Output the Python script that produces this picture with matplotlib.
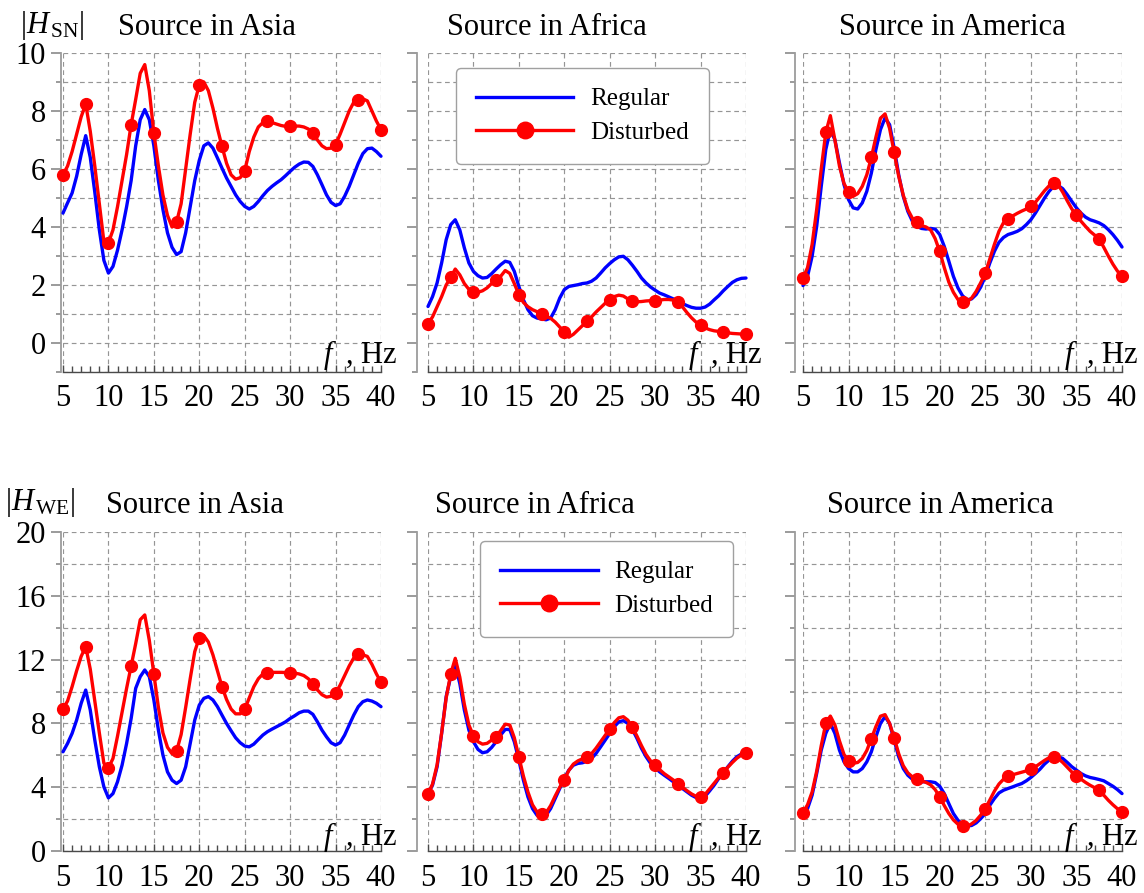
import numpy as np
import matplotlib
matplotlib.use("Agg")
import matplotlib.pyplot as plt
from matplotlib.ticker import MultipleLocator
from matplotlib.lines import Line2D

plt.rcParams['font.family'] = ['Liberation Serif', 'DejaVu Serif']
plt.rcParams['mathtext.fontset'] = 'custom'
plt.rcParams['mathtext.rm'] = 'Liberation Serif'
plt.rcParams['mathtext.it'] = 'Liberation Serif:italic'

# ---------------------------------------------------------------- data
# frequency samples, Hz (markers every 2.5 Hz)
FREQ = np.arange(5.0, 40.01, 0.5)

SN_ASIA_REG = [4.48, 4.83, 5.17, 5.75, 6.5, 7.15, 6.4, 5.2, 3.9, 2.85,
               2.41, 2.64, 3.2, 3.9, 4.7, 5.6, 6.8, 7.7, 8.05, 7.7,
               6.8, 5.6, 4.6, 3.8, 3.3, 3.05, 3.15, 3.8, 4.7, 5.6,
               6.3, 6.8, 6.9, 6.72, 6.38, 6.03, 5.69, 5.4, 5.11, 4.88,
               4.71, 4.62, 4.71, 4.88, 5.08, 5.26, 5.4, 5.52, 5.63, 5.77,
               5.92, 6.06, 6.17, 6.24, 6.23, 6.09, 5.8, 5.46, 5.11, 4.85,
               4.74, 4.8, 5.06, 5.4, 5.8, 6.2, 6.53, 6.7, 6.72, 6.6,
               6.44]
SN_ASIA_DIS = [5.8, 6.1, 6.6, 7.2, 7.8, 8.24, 7.3, 6.1, 4.8, 3.5,
               3.45, 3.9, 4.7, 5.6, 6.5, 7.53, 8.4, 9.3, 9.6, 8.7,
               7.24, 6.1, 5.1, 4.4, 4.0, 4.17, 4.8, 6.0, 7.2, 8.3,
               8.9, 9.0, 8.7, 8.1, 7.4, 6.78, 6.2, 5.8, 5.65, 5.7,
               5.94, 6.6, 7.1, 7.45, 7.6, 7.64, 7.6, 7.55, 7.5, 7.47,
               7.47, 7.48, 7.48, 7.45, 7.38, 7.24, 7.0, 6.8, 6.7, 6.72,
               6.84, 7.2, 7.6, 8.0, 8.3, 8.37, 8.42, 8.35, 8.0, 7.65,
               7.36]

SN_AFR_REG = [1.26, 1.6, 2.07, 2.76, 3.56, 4.08, 4.25, 3.9, 3.28, 2.76,
              2.47, 2.32, 2.24, 2.26, 2.39, 2.55, 2.7, 2.82, 2.78, 2.47,
              1.95, 1.49, 1.15, 0.94, 0.86, 0.83, 0.8, 0.86, 1.15, 1.55,
              1.84, 1.95, 1.98, 2.01, 2.05, 2.07, 2.13, 2.24, 2.41, 2.59,
              2.74, 2.87, 2.97, 2.99, 2.87, 2.68, 2.47, 2.24, 2.07, 1.93,
              1.82, 1.72, 1.66, 1.59, 1.52, 1.44, 1.36, 1.29, 1.23, 1.2,
              1.2, 1.24, 1.34, 1.49, 1.63, 1.8, 1.95, 2.09, 2.18, 2.23,
              2.24]
SN_AFR_DIS = [0.67, 0.9, 1.25, 1.6, 2.0, 2.26, 2.55, 2.35, 2.05, 1.85,
              1.75, 1.75, 1.8, 1.9, 2.05, 2.16, 2.3, 2.5, 2.4, 2.05,
              1.67, 1.4, 1.25, 1.15, 1.08, 1.01, 0.93, 0.85, 0.72, 0.55,
              0.38, 0.2, 0.3, 0.45, 0.6, 0.75, 0.9, 1.07, 1.22, 1.37,
              1.49, 1.6, 1.65, 1.62, 1.52, 1.44, 1.42, 1.43, 1.45, 1.46,
              1.46, 1.48, 1.5, 1.5, 1.48, 1.41, 1.25, 1.05, 0.87, 0.72,
              0.61, 0.52, 0.46, 0.42, 0.4, 0.38, 0.35, 0.33, 0.32, 0.31,
              0.32]

SN_AMR_REG = [1.98, 2.3, 2.99, 4.02, 5.4, 6.67, 7.36, 7.01, 6.21, 5.46,
              4.94, 4.66, 4.62, 4.83, 5.23, 5.86, 6.67, 7.36, 7.76, 7.53,
              6.72, 5.8, 5.06, 4.54, 4.2, 4.02, 3.95, 3.93, 3.95, 3.93,
              3.74, 3.33, 2.82, 2.3, 1.9, 1.63, 1.49, 1.52, 1.67, 1.93,
              2.3, 2.76, 3.16, 3.47, 3.64, 3.74, 3.79, 3.85, 3.94, 4.08,
              4.25, 4.48, 4.74, 5.0, 5.23, 5.4, 5.43, 5.32, 5.11, 4.88,
              4.66, 4.48, 4.34, 4.25, 4.2, 4.14, 4.05, 3.91, 3.74, 3.54,
              3.31]
SN_AMR_DIS = [2.24, 2.6, 3.4, 4.6, 6.0, 7.26, 7.84, 7.0, 6.1, 5.5,
              5.2, 5.06, 5.15, 5.4, 5.8, 6.4, 7.1, 7.75, 7.9, 7.4,
              6.57, 5.75, 5.1, 4.6, 4.3, 4.16, 4.05, 4.0, 3.9, 3.6,
              3.16, 2.6, 2.1, 1.75, 1.5, 1.4, 1.42, 1.55, 1.78, 2.08,
              2.41, 2.9, 3.4, 3.85, 4.15, 4.29, 4.38, 4.47, 4.55, 4.62,
              4.71, 4.85, 5.05, 5.25, 5.42, 5.52, 5.45, 5.2, 4.9, 4.62,
              4.4, 4.2, 4.02, 3.85, 3.72, 3.59, 3.3, 3.0, 2.72, 2.48,
              2.3]

WE_ASIA_REG = [6.22, 6.74, 7.37, 8.21, 9.26, 10.09, 8.84, 6.95, 5.28, 4.02,
               3.33, 3.6, 4.34, 5.38, 6.74, 8.31, 10.2, 10.93, 11.35, 10.93,
               9.47, 7.58, 6.01, 4.96, 4.44, 4.23, 4.44, 5.28, 6.74, 8.21,
               9.15, 9.57, 9.68, 9.47, 9.05, 8.52, 8.0, 7.54, 7.1, 6.79,
               6.58, 6.53, 6.7, 6.99, 7.27, 7.48, 7.64, 7.79, 7.94, 8.1,
               8.31, 8.48, 8.67, 8.77, 8.77, 8.57, 8.1, 7.58, 7.16, 6.79,
               6.64, 6.79, 7.27, 7.9, 8.52, 9.05, 9.36, 9.47, 9.4, 9.26,
               9.05]
WE_ASIA_DIS = [8.92, 9.4, 10.3, 11.3, 12.2, 12.82, 11.4, 9.4, 7.4, 5.5,
               5.21, 5.8, 7.2, 8.7, 10.2, 11.6, 13.0, 14.5, 14.8, 13.2,
               11.1, 9.0, 7.4, 6.5, 6.1, 6.26, 7.3, 9.0, 10.8, 12.5,
               13.38, 13.5, 13.1, 12.3, 11.3, 10.3, 9.5, 8.9, 8.6, 8.6,
               8.88, 9.6, 10.3, 10.8, 11.1, 11.18, 11.2, 11.2, 11.2, 11.19,
               11.18, 11.15, 11.1, 11.0, 10.8, 10.47, 10.1, 9.8, 9.65, 9.7,
               9.88, 10.4, 11.0, 11.6, 12.1, 12.34, 12.3, 12.2, 11.7, 11.1,
               10.58]

WE_AFR_REG = [3.6, 4.13, 5.28, 7.37, 9.68, 10.93, 11.66, 10.5, 8.84, 7.58,
              6.85, 6.37, 6.16, 6.22, 6.49, 6.85, 7.27, 7.62, 7.62, 6.85,
              5.7, 4.44, 3.39, 2.66, 2.24, 2.14, 2.24, 2.66, 3.29, 3.92,
              4.55, 5.07, 5.38, 5.49, 5.53, 5.63, 5.8, 6.12, 6.53, 6.95,
              7.37, 7.79, 8.1, 8.17, 8.0, 7.62, 7.06, 6.43, 5.91, 5.49,
              5.21, 4.96, 4.75, 4.55, 4.34, 4.13, 3.92, 3.71, 3.5, 3.35,
              3.29, 3.43, 3.77, 4.13, 4.55, 4.92, 5.28, 5.63, 5.91, 6.08,
              6.16]
WE_AFR_DIS = [3.56, 4.2, 5.4, 7.4, 9.6, 11.1, 12.08, 10.9, 9.2, 7.9,
              7.23, 6.85, 6.7, 6.75, 6.95, 7.16, 7.55, 7.95, 7.9, 7.1,
              5.91, 4.7, 3.7, 2.9, 2.45, 2.3, 2.4, 2.85, 3.45, 4.0,
              4.48, 5.05, 5.45, 5.65, 5.78, 5.91, 6.1, 6.45, 6.85, 7.25,
              7.64, 8.05, 8.35, 8.42, 8.2, 7.75, 7.2, 6.6, 6.05, 5.65,
              5.38, 5.1, 4.85, 4.65, 4.45, 4.23, 4.0, 3.78, 3.58, 3.43,
              3.39, 3.55, 3.9, 4.25, 4.6, 4.92, 5.25, 5.55, 5.82, 6.02,
              6.16]

WE_AMR_REG = [2.14, 2.66, 3.5, 4.86, 6.32, 7.37, 8.0, 7.37, 6.32, 5.59,
              5.17, 4.96, 4.96, 5.17, 5.59, 6.22, 7.16, 8.0, 8.42, 8.0,
              6.95, 5.91, 5.17, 4.75, 4.5, 4.38, 4.34, 4.34, 4.34, 4.29,
              4.06, 3.6, 2.97, 2.35, 1.93, 1.68, 1.57, 1.6, 1.76, 2.03,
              2.35, 2.87, 3.29, 3.64, 3.81, 3.92, 4.02, 4.13, 4.23, 4.4,
              4.61, 4.86, 5.13, 5.45, 5.7, 5.86, 5.91, 5.8, 5.55, 5.28,
              5.07, 4.86, 4.71, 4.61, 4.55, 4.48, 4.4, 4.23, 4.06, 3.85,
              3.6]
WE_AMR_DIS = [2.41, 2.9, 3.7, 5.0, 6.6, 8.0, 8.46, 7.9, 6.9, 6.05,
              5.65, 5.5, 5.55, 5.8, 6.3, 7.04, 7.8, 8.45, 8.55, 8.0,
              7.1, 6.1, 5.35, 4.9, 4.65, 4.5, 4.4, 4.3, 4.15, 3.85,
              3.39, 2.85, 2.35, 1.95, 1.68, 1.55, 1.55, 1.7, 1.92, 2.25,
              2.66, 3.2, 3.75, 4.2, 4.5, 4.69, 4.78, 4.86, 4.94, 5.02,
              5.11, 5.28, 5.48, 5.68, 5.85, 5.91, 5.8, 5.55, 5.25, 4.95,
              4.71, 4.5, 4.3, 4.12, 3.97, 3.81, 3.5, 3.18, 2.9, 2.65,
              2.45]

REGIONS = ["Source in Asia", "Source in Africa", "Source in America"]
SERIES_LABELS = ["Regular", "Disturbed"]
ROW_LABELS = [r"$|H_{\,\mathrm{SN}}|$", r"$|H_{\,\mathrm{WE}}|$"]
X_TICKS = [5, 10, 15, 20, 25, 30, 35, 40]

ROWS = [
    [(SN_ASIA_REG, SN_ASIA_DIS), (SN_AFR_REG, SN_AFR_DIS), (SN_AMR_REG, SN_AMR_DIS)],
    [(WE_ASIA_REG, WE_ASIA_DIS), (WE_AFR_REG, WE_AFR_DIS), (WE_AMR_REG, WE_AMR_DIS)],
]

# ---------------------------------------------------------------- layout
W, H = 1144, 893
fig = plt.figure(figsize=(W / 100, H / 100), dpi=100)
fig.patch.set_facecolor("white")

col_px = [(63, 381), (428, 746), (803, 1122)]
row_px = [(53, 372), (532, 851)]
spine_off_px = [2.5, 11, 8]
ylims = [(-1, 10), (0, 20)]
ymajor = [2, 4]

title_pos = [[(207, 35), (547, 35), (952, 35)],
             [(195, 513), (535, 513), (940, 513)]]
rowlabel_pos = [(20, 33), (5, 510)]
legend_anchor = [(0.088, 0.953), (0.164, 0.972)]
fhz_offset = [(12, 6.5), (12, 4.0)]

BLUE = "#0000ff"
RED = "#ff0000"
GRID = "#959595"
FS = 22


def fig_xy(px, py):
    return px / W, 1 - py / H


for r in range(2):
    y0, y1 = row_px[r]
    for c in range(3):
        x0, x1 = col_px[c]
        ax = fig.add_axes([x0 / W, 1 - y1 / H, (x1 - x0) / W, (y1 - y0) / H])
        reg, dis = ROWS[r][c]

        ax.set_xlim(5, 40)
        ax.set_ylim(*ylims[r])
        ax.set_facecolor("white")

        for s in ("top", "right"):
            ax.spines[s].set_visible(False)
        ax.spines["left"].set_position(("outward", spine_off_px[c] * 0.72))
        ax.spines["left"].set_color("#9c9c9c")
        ax.spines["left"].set_linewidth(1.3)
        ax.spines["bottom"].set_color("#4a4a4a")
        ax.spines["bottom"].set_linewidth(1.0)

        ax.set_xticks(X_TICKS)
        ax.xaxis.set_minor_locator(MultipleLocator(1))
        ax.yaxis.set_major_locator(MultipleLocator(ymajor[r]))
        ax.yaxis.set_minor_locator(MultipleLocator(ymajor[r] / 2))

        ax.tick_params(axis="x", which="both", direction="in", color="#4a4a4a",
                       width=1.0)
        ax.tick_params(axis="x", which="major", length=5, pad=9, labelsize=FS)
        ax.tick_params(axis="x", which="minor", length=4)
        ax.tick_params(axis="y", which="both", direction="out", color="#8a8a8a",
                       width=1.2)
        ax.tick_params(axis="y", which="major", length=7.5, pad=3, labelsize=FS,
                       labelleft=(c == 0))
        ax.tick_params(axis="y", which="minor", length=3.5)

        ax.grid(True, which="major", axis="x", color=GRID, lw=0.85,
                ls=(0, (4, 3)))
        ax.grid(True, which="both", axis="y", color=GRID, lw=0.85,
                ls=(0, (4, 3)))

        ax.plot(FREQ, reg, color=BLUE, lw=2.4, clip_on=False, zorder=3,
                solid_capstyle="round", solid_joinstyle="round")
        ax.plot(FREQ, dis, color=RED, lw=2.4, marker="o", ms=8.5,
                markevery=5, clip_on=False, zorder=4,
                solid_capstyle="round", solid_joinstyle="round")

        ax.annotate(r"$f\;$ , Hz", xy=(1, 0), xycoords="axes fraction",
                    xytext=fhz_offset[r], textcoords="offset points",
                    ha="right", va="baseline", fontsize=FS)

        tx, ty = fig_xy(*title_pos[r][c])
        fig.text(tx, ty, REGIONS[c], ha="center", va="baseline", fontsize=FS)

        if c == 1:
            handles = [
                Line2D([], [], color=BLUE, lw=2.4),
                Line2D([], [], color=RED, lw=2.4, marker="o", ms=8.5),
            ]
            leg = ax.legend(handles, SERIES_LABELS, loc="upper left",
                            bbox_to_anchor=legend_anchor[r], borderaxespad=0,
                            fontsize=18, handlelength=3.9, handletextpad=0.68,
                            borderpad=0.8, labelspacing=0.45, markerscale=1.4,
                            frameon=True, fancybox=True, framealpha=1,
                            edgecolor="#a0a0a0", facecolor="white")
            leg.get_frame().set_linewidth(1.0)
            leg.set_zorder(10)

    lx, ly = fig_xy(*rowlabel_pos[r])
    fig.text(lx, ly, ROW_LABELS[r], ha="left", va="baseline", fontsize=FS)

fig.savefig("out.png", dpi=100, facecolor="white")
